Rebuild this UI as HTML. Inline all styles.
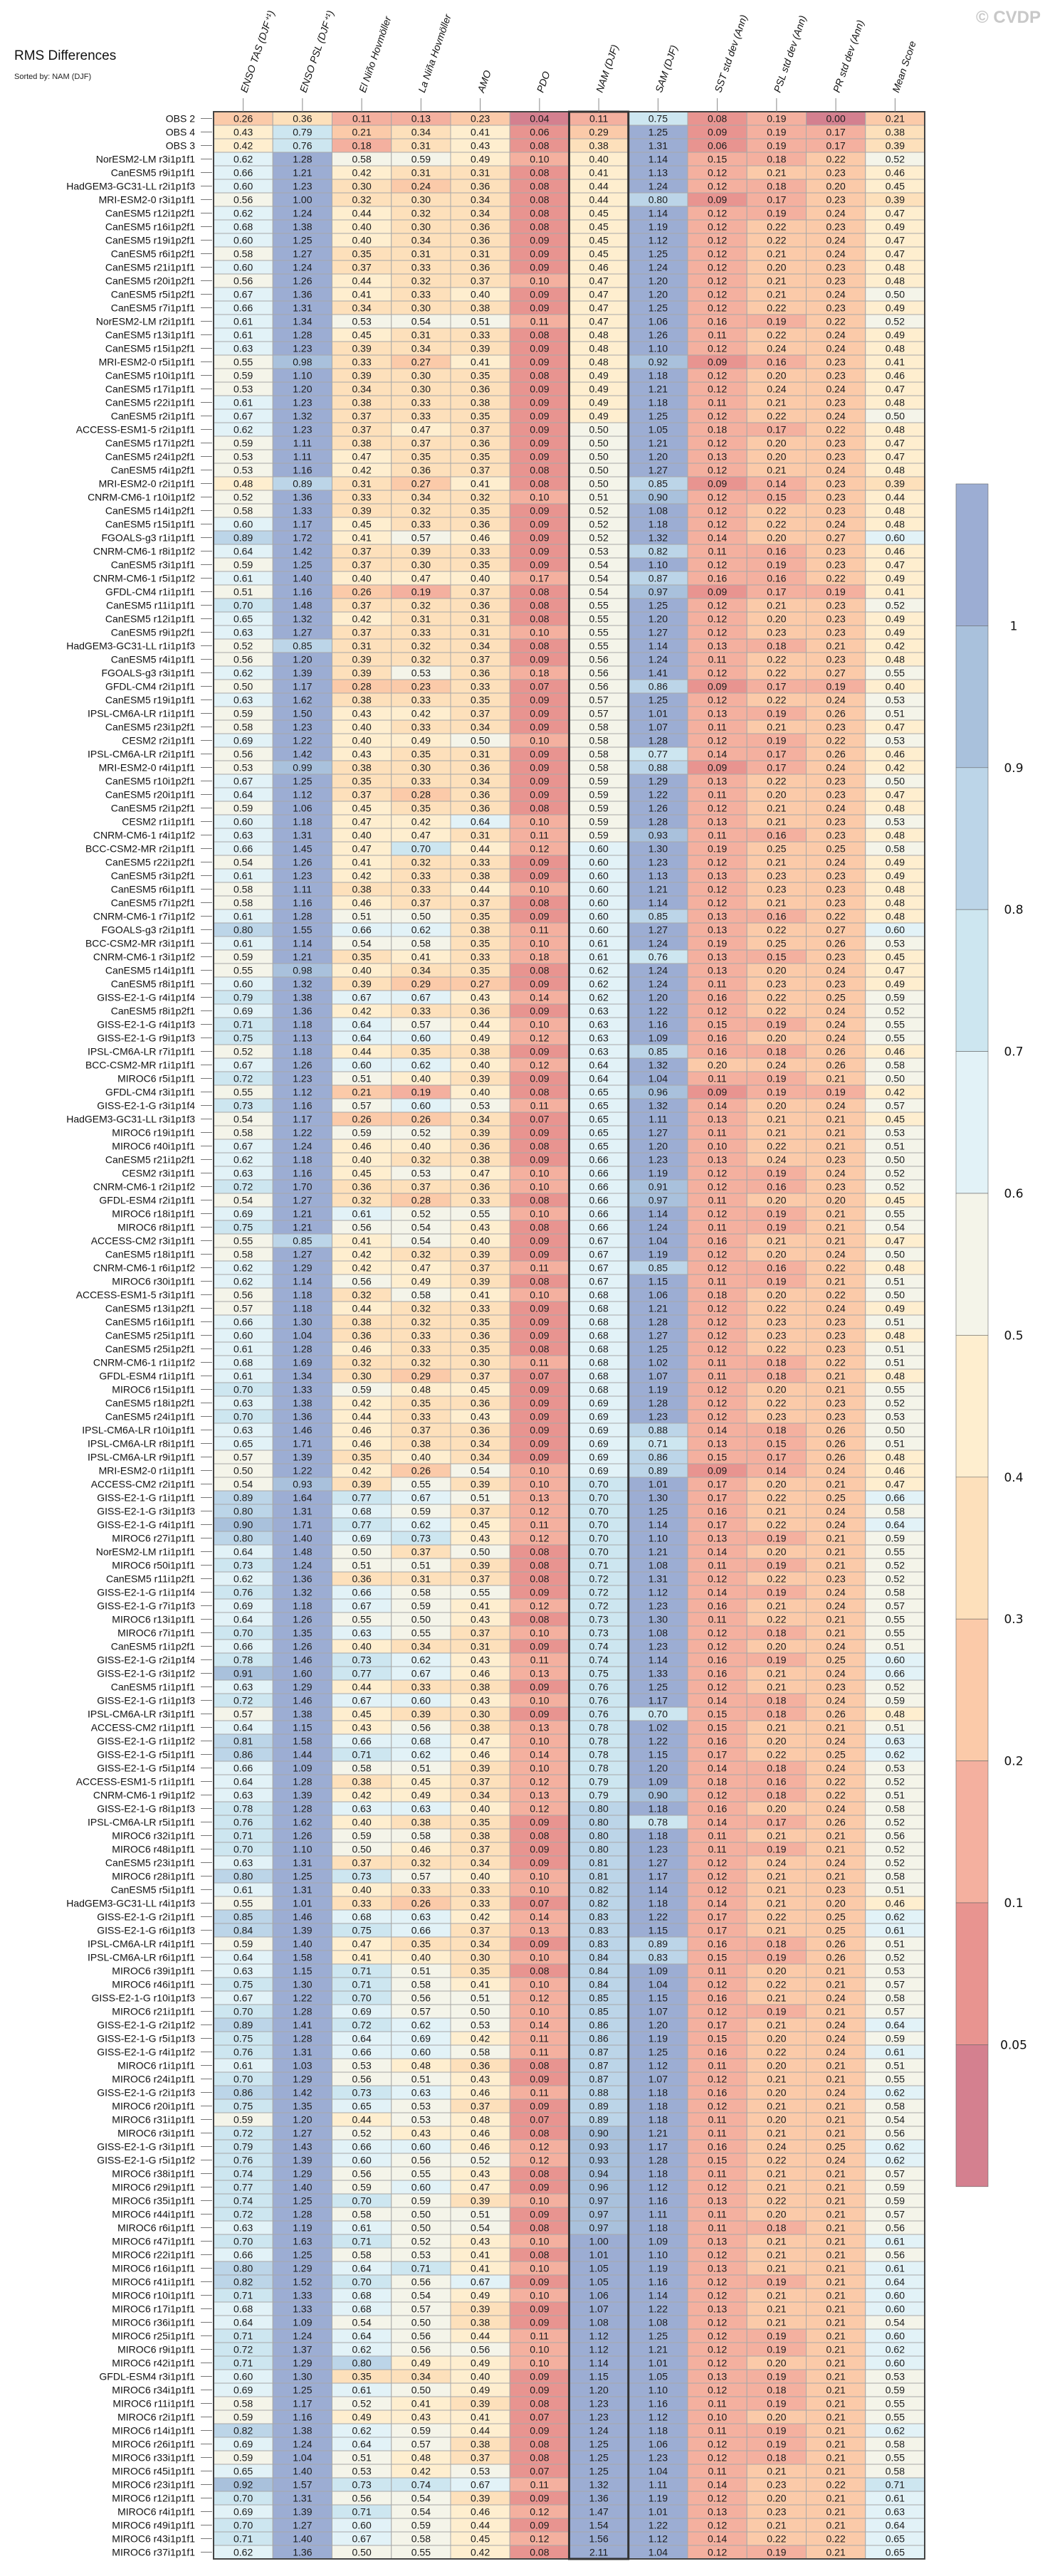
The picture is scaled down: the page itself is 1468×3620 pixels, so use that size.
<!DOCTYPE html>
<html><head><meta charset="utf-8"><title>RMS Differences</title>
<style>
html,body{margin:0;padding:0;background:#fff;}
svg{display:block;font-family:"Liberation Sans",sans-serif;}
</style></head>
<body>
<svg id="chart" width="1468" height="3620" viewBox="0 0 1468 3620" xmlns="http://www.w3.org/2000/svg">
<text x="20" y="84" font-size="19" fill="#111">RMS Differences</text>
<text x="20" y="111" font-size="11" fill="#222">Sorted by: NAM (DJF)</text>
<text x="1462" y="32" font-size="24" font-weight="bold" fill="#c8c8c8" text-anchor="end">© CVDP</text>
<g id="cells"></g>
<g id="rowlabels"></g>
<g id="collabels"></g>
<g id="colorbar"></g>
</svg>
<script>
const metrics = ["ENSO TAS (DJF⁺¹)","ENSO PSL (DJF⁺¹)","El Niño Hovmöller","La Niña Hovmöller","AMO","PDO","NAM (DJF)","SAM (DJF)","SST std dev (Ann)","PSL std dev (Ann)","PR std dev (Ann)","Mean Score"];
const sortedCol = 6;
const cbTicks = [1,0.9,0.8,0.7,0.6,0.5,0.4,0.3,0.2,0.1,0.05];
const cbColors = ["#9cadd3","#a9c1dc","#bcd5e8","#cde6f0","#e2f2f7","#f4f4e9","#feeecf","#fde0bb","#fbcaa9","#f4b09f","#e89490","#d4808f"];
const models = ["OBS 2","OBS 4","OBS 3","NorESM2-LM r3i1p1f1","CanESM5 r9i1p1f1","HadGEM3-GC31-LL r2i1p1f3","MRI-ESM2-0 r3i1p1f1","CanESM5 r12i1p2f1","CanESM5 r16i1p2f1","CanESM5 r19i1p2f1","CanESM5 r6i1p2f1","CanESM5 r21i1p1f1","CanESM5 r20i1p2f1","CanESM5 r5i1p2f1","CanESM5 r7i1p1f1","NorESM2-LM r2i1p1f1","CanESM5 r13i1p1f1","CanESM5 r15i1p2f1","MRI-ESM2-0 r5i1p1f1","CanESM5 r10i1p1f1",
"CanESM5 r17i1p1f1","CanESM5 r22i1p1f1","CanESM5 r2i1p1f1","ACCESS-ESM1-5 r2i1p1f1","CanESM5 r17i1p2f1","CanESM5 r24i1p2f1","CanESM5 r4i1p2f1","MRI-ESM2-0 r2i1p1f1","CNRM-CM6-1 r10i1p1f2","CanESM5 r14i1p2f1","CanESM5 r15i1p1f1","FGOALS-g3 r1i1p1f1","CNRM-CM6-1 r8i1p1f2","CanESM5 r3i1p1f1","CNRM-CM6-1 r5i1p1f2","GFDL-CM4 r1i1p1f1","CanESM5 r11i1p1f1","CanESM5 r12i1p1f1","CanESM5 r9i1p2f1","HadGEM3-GC31-LL r1i1p1f3","CanESM5 r4i1p1f1",
"FGOALS-g3 r3i1p1f1","GFDL-CM4 r2i1p1f1","CanESM5 r19i1p1f1","IPSL-CM6A-LR r1i1p1f1","CanESM5 r23i1p2f1","CESM2 r2i1p1f1","IPSL-CM6A-LR r2i1p1f1","MRI-ESM2-0 r4i1p1f1","CanESM5 r10i1p2f1","CanESM5 r20i1p1f1","CanESM5 r2i1p2f1","CESM2 r1i1p1f1","CNRM-CM6-1 r4i1p1f2","BCC-CSM2-MR r2i1p1f1","CanESM5 r22i1p2f1","CanESM5 r3i1p2f1","CanESM5 r6i1p1f1","CanESM5 r7i1p2f1","CNRM-CM6-1 r7i1p1f2","FGOALS-g3 r2i1p1f1","BCC-CSM2-MR r3i1p1f1",
"CNRM-CM6-1 r3i1p1f2","CanESM5 r14i1p1f1","CanESM5 r8i1p1f1","GISS-E2-1-G r4i1p1f4","CanESM5 r8i1p2f1","GISS-E2-1-G r4i1p1f3","GISS-E2-1-G r9i1p1f3","IPSL-CM6A-LR r7i1p1f1","BCC-CSM2-MR r1i1p1f1","MIROC6 r5i1p1f1","GFDL-CM4 r3i1p1f1","GISS-E2-1-G r3i1p1f4","HadGEM3-GC31-LL r3i1p1f3","MIROC6 r19i1p1f1","MIROC6 r40i1p1f1","CanESM5 r21i1p2f1","CESM2 r3i1p1f1","CNRM-CM6-1 r2i1p1f2","GFDL-ESM4 r2i1p1f1","MIROC6 r18i1p1f1","MIROC6 r8i1p1f1",
"ACCESS-CM2 r3i1p1f1","CanESM5 r18i1p1f1","CNRM-CM6-1 r6i1p1f2","MIROC6 r30i1p1f1","ACCESS-ESM1-5 r3i1p1f1","CanESM5 r13i1p2f1","CanESM5 r16i1p1f1","CanESM5 r25i1p1f1","CanESM5 r25i1p2f1","CNRM-CM6-1 r1i1p1f2","GFDL-ESM4 r1i1p1f1","MIROC6 r15i1p1f1","CanESM5 r18i1p2f1","CanESM5 r24i1p1f1","IPSL-CM6A-LR r10i1p1f1","IPSL-CM6A-LR r8i1p1f1","IPSL-CM6A-LR r9i1p1f1","MRI-ESM2-0 r1i1p1f1","ACCESS-CM2 r2i1p1f1","GISS-E2-1-G r1i1p1f1","GISS-E2-1-G r3i1p1f3",
"GISS-E2-1-G r4i1p1f1","MIROC6 r27i1p1f1","NorESM2-LM r1i1p1f1","MIROC6 r50i1p1f1","CanESM5 r11i1p2f1","GISS-E2-1-G r1i1p1f4","GISS-E2-1-G r7i1p1f3","MIROC6 r13i1p1f1","MIROC6 r7i1p1f1","CanESM5 r1i1p2f1","GISS-E2-1-G r2i1p1f4","GISS-E2-1-G r3i1p1f2","CanESM5 r1i1p1f1","GISS-E2-1-G r1i1p1f3","IPSL-CM6A-LR r3i1p1f1","ACCESS-CM2 r1i1p1f1","GISS-E2-1-G r1i1p1f2","GISS-E2-1-G r5i1p1f1","GISS-E2-1-G r5i1p1f4","ACCESS-ESM1-5 r1i1p1f1","CNRM-CM6-1 r9i1p1f2",
"GISS-E2-1-G r8i1p1f3","IPSL-CM6A-LR r5i1p1f1","MIROC6 r32i1p1f1","MIROC6 r48i1p1f1","CanESM5 r23i1p1f1","MIROC6 r28i1p1f1","CanESM5 r5i1p1f1","HadGEM3-GC31-LL r4i1p1f3","GISS-E2-1-G r2i1p1f1","GISS-E2-1-G r6i1p1f3","IPSL-CM6A-LR r4i1p1f1","IPSL-CM6A-LR r6i1p1f1","MIROC6 r39i1p1f1","MIROC6 r46i1p1f1","GISS-E2-1-G r10i1p1f3","MIROC6 r21i1p1f1","GISS-E2-1-G r2i1p1f2","GISS-E2-1-G r5i1p1f3","GISS-E2-1-G r4i1p1f2","MIROC6 r1i1p1f1","MIROC6 r24i1p1f1",
"GISS-E2-1-G r2i1p1f3","MIROC6 r20i1p1f1","MIROC6 r31i1p1f1","MIROC6 r3i1p1f1","GISS-E2-1-G r3i1p1f1","GISS-E2-1-G r5i1p1f2","MIROC6 r38i1p1f1","MIROC6 r29i1p1f1","MIROC6 r35i1p1f1","MIROC6 r44i1p1f1","MIROC6 r6i1p1f1","MIROC6 r47i1p1f1","MIROC6 r22i1p1f1","MIROC6 r16i1p1f1","MIROC6 r41i1p1f1","MIROC6 r10i1p1f1","MIROC6 r17i1p1f1","MIROC6 r36i1p1f1","MIROC6 r25i1p1f1","MIROC6 r9i1p1f1","MIROC6 r42i1p1f1",
"GFDL-ESM4 r3i1p1f1","MIROC6 r34i1p1f1","MIROC6 r11i1p1f1","MIROC6 r2i1p1f1","MIROC6 r14i1p1f1","MIROC6 r26i1p1f1","MIROC6 r33i1p1f1","MIROC6 r45i1p1f1","MIROC6 r23i1p1f1","MIROC6 r12i1p1f1","MIROC6 r4i1p1f1","MIROC6 r49i1p1f1","MIROC6 r43i1p1f1","MIROC6 r37i1p1f1"];
const rms = [
[.26,.36,.11,.13,.23,.04,.11,.75,.08,.19,.00,.21],
[.43,.79,.21,.34,.41,.06,.29,1.25,.09,.19,.17,.38],
[.42,.76,.18,.31,.43,.08,.38,1.31,.06,.19,.17,.39],
[.62,1.28,.58,.59,.49,.10,.40,1.14,.15,.18,.22,.52],
[.66,1.21,.42,.31,.31,.08,.41,1.13,.12,.21,.23,.46],
[.60,1.23,.30,.24,.36,.08,.44,1.24,.12,.18,.20,.45],
[.56,1.00,.32,.30,.34,.08,.44,.80,.09,.17,.23,.39],
[.62,1.24,.44,.32,.34,.08,.45,1.14,.12,.19,.24,.47],
[.68,1.38,.40,.30,.36,.08,.45,1.19,.12,.22,.23,.49],
[.60,1.25,.40,.34,.36,.09,.45,1.12,.12,.22,.24,.47],
[.58,1.27,.35,.31,.31,.09,.45,1.25,.12,.21,.24,.47],
[.60,1.24,.37,.33,.36,.09,.46,1.24,.12,.20,.23,.48],
[.56,1.26,.44,.32,.37,.10,.47,1.20,.12,.21,.23,.48],
[.67,1.36,.41,.33,.40,.09,.47,1.20,.12,.21,.24,.50],
[.66,1.31,.34,.30,.38,.09,.47,1.25,.12,.22,.23,.49],
[.61,1.34,.53,.54,.51,.11,.47,1.06,.16,.19,.22,.52],
[.61,1.28,.45,.31,.33,.08,.48,1.26,.11,.22,.24,.49],
[.63,1.23,.39,.34,.39,.09,.48,1.10,.12,.24,.24,.48],
[.55,.98,.33,.27,.41,.09,.48,.92,.09,.16,.23,.41],
[.59,1.10,.39,.30,.35,.08,.49,1.18,.12,.20,.23,.46],
[.53,1.20,.34,.30,.36,.09,.49,1.21,.12,.24,.24,.47],
[.61,1.23,.38,.33,.38,.09,.49,1.18,.11,.21,.23,.48],
[.67,1.32,.37,.33,.35,.09,.49,1.25,.12,.22,.24,.50],
[.62,1.23,.37,.47,.37,.09,.50,1.05,.18,.17,.22,.48],
[.59,1.11,.38,.37,.36,.09,.50,1.21,.12,.20,.23,.47],
[.53,1.11,.47,.35,.35,.09,.50,1.20,.13,.20,.23,.47],
[.53,1.16,.42,.36,.37,.08,.50,1.27,.12,.21,.24,.48],
[.48,.89,.31,.27,.41,.08,.50,.85,.09,.14,.23,.39],
[.52,1.36,.33,.34,.32,.10,.51,.90,.12,.15,.23,.44],
[.58,1.33,.39,.32,.35,.09,.52,1.08,.12,.22,.23,.48],
[.60,1.17,.45,.33,.36,.09,.52,1.18,.12,.22,.24,.48],
[.89,1.72,.41,.57,.46,.09,.52,1.32,.14,.20,.27,.60],
[.64,1.42,.37,.39,.33,.09,.53,.82,.11,.16,.23,.46],
[.59,1.25,.37,.30,.35,.09,.54,1.10,.12,.19,.23,.47],
[.61,1.40,.40,.47,.40,.17,.54,.87,.16,.16,.22,.49],
[.51,1.16,.26,.19,.37,.08,.54,.97,.09,.17,.19,.41],
[.70,1.48,.37,.32,.36,.08,.55,1.25,.12,.21,.23,.52],
[.65,1.32,.42,.31,.31,.08,.55,1.20,.12,.20,.23,.49],
[.63,1.27,.37,.33,.31,.10,.55,1.27,.12,.23,.23,.49],
[.52,.85,.31,.32,.34,.08,.55,1.14,.13,.18,.21,.42],
[.56,1.20,.39,.32,.37,.09,.56,1.24,.11,.22,.23,.48],
[.62,1.39,.39,.53,.36,.18,.56,1.41,.12,.22,.27,.55],
[.50,1.17,.28,.23,.33,.07,.56,.86,.09,.17,.19,.40],
[.63,1.62,.38,.33,.35,.09,.57,1.25,.12,.22,.24,.53],
[.59,1.50,.43,.42,.37,.09,.57,1.01,.13,.19,.26,.51],
[.58,1.23,.40,.33,.34,.09,.58,1.07,.11,.21,.23,.47],
[.69,1.22,.40,.49,.50,.10,.58,1.28,.12,.19,.22,.53],
[.56,1.42,.43,.35,.31,.09,.58,.77,.14,.17,.26,.46],
[.53,.99,.38,.30,.36,.09,.58,.88,.09,.17,.24,.42],
[.67,1.25,.35,.33,.34,.09,.59,1.29,.13,.22,.23,.50],
[.64,1.12,.37,.28,.36,.09,.59,1.22,.11,.20,.23,.47],
[.59,1.06,.45,.35,.36,.08,.59,1.26,.12,.21,.24,.48],
[.60,1.18,.47,.42,.64,.10,.59,1.28,.13,.21,.23,.53],
[.63,1.31,.40,.47,.31,.11,.59,.93,.11,.16,.23,.48],
[.66,1.45,.47,.70,.44,.12,.60,1.30,.19,.25,.25,.58],
[.54,1.26,.41,.32,.33,.09,.60,1.23,.12,.21,.24,.49],
[.61,1.23,.42,.33,.38,.09,.60,1.13,.13,.23,.23,.49],
[.58,1.11,.38,.33,.44,.10,.60,1.21,.12,.23,.23,.48],
[.58,1.16,.46,.37,.37,.08,.60,1.14,.12,.21,.23,.48],
[.61,1.28,.51,.50,.35,.09,.60,.85,.13,.16,.22,.48],
[.80,1.55,.66,.62,.38,.11,.60,1.27,.13,.22,.27,.60],
[.61,1.14,.54,.58,.35,.10,.61,1.24,.19,.25,.26,.53],
[.59,1.21,.35,.41,.33,.18,.61,.76,.13,.15,.23,.45],
[.55,.98,.40,.34,.35,.08,.62,1.24,.13,.20,.24,.47],
[.60,1.32,.39,.29,.27,.09,.62,1.24,.11,.23,.23,.49],
[.79,1.38,.67,.67,.43,.14,.62,1.20,.16,.22,.25,.59],
[.69,1.36,.42,.33,.36,.09,.63,1.22,.12,.22,.24,.52],
[.71,1.18,.64,.57,.44,.10,.63,1.16,.15,.19,.24,.55],
[.75,1.13,.64,.60,.49,.12,.63,1.09,.16,.20,.24,.55],
[.52,1.18,.44,.35,.38,.09,.63,.85,.16,.18,.26,.46],
[.67,1.26,.60,.62,.40,.12,.64,1.32,.20,.24,.26,.58],
[.72,1.23,.51,.40,.39,.09,.64,1.04,.11,.19,.21,.50],
[.55,1.12,.21,.19,.40,.08,.65,.96,.09,.19,.19,.42],
[.73,1.16,.57,.60,.53,.11,.65,1.32,.14,.20,.24,.57],
[.54,1.17,.26,.26,.34,.07,.65,1.11,.13,.21,.21,.45],
[.58,1.22,.59,.52,.39,.09,.65,1.27,.11,.21,.21,.53],
[.67,1.24,.46,.40,.36,.08,.65,1.20,.10,.22,.21,.51],
[.62,1.18,.40,.32,.38,.09,.66,1.23,.13,.24,.23,.50],
[.63,1.16,.45,.53,.47,.10,.66,1.19,.12,.19,.24,.52],
[.72,1.70,.36,.37,.36,.10,.66,.91,.12,.16,.23,.52],
[.54,1.27,.32,.28,.33,.08,.66,.97,.11,.20,.20,.45],
[.69,1.21,.61,.52,.55,.10,.66,1.14,.12,.19,.21,.55],
[.75,1.21,.56,.54,.43,.08,.66,1.24,.11,.19,.21,.54],
[.55,.85,.41,.54,.40,.09,.67,1.04,.16,.21,.21,.47],
[.58,1.27,.42,.32,.39,.09,.67,1.19,.12,.20,.24,.50],
[.62,1.29,.42,.47,.37,.11,.67,.85,.12,.16,.22,.48],
[.62,1.14,.56,.49,.39,.08,.67,1.15,.11,.19,.21,.51],
[.56,1.18,.32,.58,.41,.10,.68,1.06,.18,.20,.22,.50],
[.57,1.18,.44,.32,.33,.09,.68,1.21,.12,.22,.24,.49],
[.66,1.30,.38,.32,.35,.09,.68,1.28,.12,.23,.23,.51],
[.60,1.04,.36,.33,.36,.09,.68,1.27,.12,.23,.23,.48],
[.61,1.28,.46,.33,.35,.08,.68,1.25,.12,.22,.23,.51],
[.68,1.69,.32,.32,.30,.11,.68,1.02,.11,.18,.22,.51],
[.61,1.34,.30,.29,.37,.07,.68,1.07,.11,.18,.21,.48],
[.70,1.33,.59,.48,.45,.09,.68,1.19,.12,.20,.21,.55],
[.63,1.38,.42,.35,.36,.09,.69,1.28,.12,.22,.23,.52],
[.70,1.36,.44,.33,.43,.09,.69,1.23,.12,.23,.23,.53],
[.63,1.46,.46,.37,.36,.09,.69,.88,.14,.18,.26,.50],
[.65,1.71,.46,.38,.34,.09,.69,.71,.13,.15,.26,.51],
[.57,1.39,.35,.40,.34,.09,.69,.86,.15,.17,.26,.48],
[.50,1.22,.42,.26,.54,.10,.69,.89,.09,.14,.24,.46],
[.54,.93,.39,.55,.39,.10,.70,1.01,.17,.20,.21,.47],
[.89,1.64,.77,.67,.51,.13,.70,1.30,.17,.22,.25,.66],
[.80,1.31,.68,.59,.37,.12,.70,1.25,.16,.21,.24,.58],
[.90,1.71,.77,.62,.45,.11,.70,1.14,.17,.22,.24,.64],
[.80,1.40,.69,.73,.43,.12,.70,1.10,.13,.19,.21,.59],
[.64,1.48,.50,.37,.50,.08,.70,1.21,.14,.20,.21,.55],
[.73,1.24,.51,.51,.39,.08,.71,1.08,.11,.19,.21,.52],
[.62,1.36,.36,.31,.37,.08,.72,1.31,.12,.22,.23,.52],
[.76,1.32,.66,.58,.55,.09,.72,1.12,.14,.19,.24,.58],
[.69,1.18,.67,.59,.41,.12,.72,1.23,.16,.21,.24,.57],
[.64,1.26,.55,.50,.43,.08,.73,1.30,.11,.22,.21,.55],
[.70,1.35,.63,.55,.37,.10,.73,1.08,.12,.18,.21,.55],
[.66,1.26,.40,.34,.31,.09,.74,1.23,.12,.20,.24,.51],
[.78,1.46,.73,.62,.43,.11,.74,1.14,.16,.19,.25,.60],
[.91,1.60,.77,.67,.46,.13,.75,1.33,.16,.21,.24,.66],
[.63,1.29,.44,.33,.38,.09,.76,1.25,.12,.21,.23,.52],
[.72,1.46,.67,.60,.43,.10,.76,1.17,.14,.18,.24,.59],
[.57,1.38,.45,.39,.30,.09,.76,.70,.15,.18,.26,.48],
[.64,1.15,.43,.56,.38,.13,.78,1.02,.15,.21,.21,.51],
[.81,1.58,.66,.68,.47,.10,.78,1.22,.16,.20,.24,.63],
[.86,1.44,.71,.62,.46,.14,.78,1.15,.17,.22,.25,.62],
[.66,1.09,.58,.51,.39,.10,.78,1.20,.14,.18,.24,.53],
[.64,1.28,.38,.45,.37,.12,.79,1.09,.18,.16,.22,.52],
[.63,1.39,.42,.49,.34,.13,.79,.90,.12,.18,.22,.51],
[.78,1.28,.63,.63,.40,.12,.80,1.18,.16,.20,.24,.58],
[.76,1.62,.40,.38,.35,.09,.80,.78,.14,.17,.26,.52],
[.71,1.26,.59,.58,.38,.08,.80,1.18,.11,.21,.21,.56],
[.70,1.10,.50,.46,.37,.09,.80,1.23,.11,.19,.21,.52],
[.63,1.31,.37,.32,.34,.09,.81,1.27,.12,.24,.24,.52],
[.80,1.25,.73,.57,.40,.10,.81,1.17,.12,.21,.21,.58],
[.61,1.31,.40,.33,.33,.10,.82,1.14,.12,.21,.23,.51],
[.55,1.01,.33,.26,.33,.07,.82,1.18,.14,.21,.20,.46],
[.85,1.46,.68,.63,.42,.14,.83,1.22,.17,.22,.25,.62],
[.84,1.39,.75,.66,.37,.13,.83,1.15,.17,.21,.25,.61],
[.59,1.40,.47,.35,.34,.09,.83,.89,.16,.18,.26,.51],
[.64,1.58,.41,.40,.30,.10,.84,.83,.15,.19,.26,.52],
[.63,1.15,.71,.51,.35,.08,.84,1.09,.11,.20,.21,.53],
[.75,1.30,.71,.58,.41,.10,.84,1.04,.12,.22,.21,.57],
[.67,1.22,.70,.56,.51,.12,.85,1.15,.16,.21,.24,.58],
[.70,1.28,.69,.57,.50,.10,.85,1.07,.12,.19,.21,.57],
[.89,1.41,.72,.62,.53,.14,.86,1.20,.17,.21,.24,.64],
[.75,1.28,.64,.69,.42,.11,.86,1.19,.15,.20,.24,.59],
[.76,1.31,.66,.60,.58,.11,.87,1.25,.16,.22,.24,.61],
[.61,1.03,.53,.48,.36,.08,.87,1.12,.11,.20,.21,.51],
[.70,1.29,.56,.51,.43,.09,.87,1.07,.12,.21,.21,.55],
[.86,1.42,.73,.63,.46,.11,.88,1.18,.16,.20,.24,.62],
[.75,1.35,.65,.53,.37,.09,.89,1.18,.12,.21,.21,.58],
[.59,1.20,.44,.53,.48,.07,.89,1.18,.11,.20,.21,.54],
[.72,1.27,.52,.43,.46,.08,.90,1.21,.11,.21,.21,.56],
[.79,1.43,.66,.60,.46,.12,.93,1.17,.16,.24,.25,.62],
[.76,1.39,.60,.56,.52,.12,.93,1.28,.15,.22,.24,.62],
[.74,1.29,.56,.55,.43,.08,.94,1.18,.11,.21,.21,.57],
[.77,1.40,.59,.60,.47,.09,.96,1.12,.12,.21,.21,.59],
[.74,1.25,.70,.59,.39,.10,.97,1.16,.13,.22,.21,.59],
[.72,1.28,.58,.50,.51,.09,.97,1.11,.11,.20,.21,.57],
[.63,1.19,.61,.50,.54,.08,.97,1.18,.11,.18,.21,.56],
[.70,1.63,.71,.52,.43,.10,1.00,1.09,.13,.21,.21,.61],
[.66,1.25,.58,.53,.41,.08,1.01,1.10,.12,.21,.21,.56],
[.80,1.29,.64,.71,.41,.10,1.05,1.19,.13,.21,.21,.61],
[.82,1.52,.70,.56,.67,.09,1.05,1.16,.12,.19,.21,.64],
[.71,1.33,.68,.54,.49,.10,1.06,1.14,.12,.21,.21,.60],
[.68,1.33,.68,.57,.39,.09,1.07,1.22,.13,.21,.21,.60],
[.64,1.09,.54,.50,.38,.09,1.08,1.08,.12,.21,.21,.54],
[.71,1.24,.64,.56,.44,.11,1.12,1.25,.12,.19,.21,.60],
[.72,1.37,.62,.56,.56,.10,1.12,1.21,.12,.19,.21,.62],
[.71,1.29,.80,.49,.49,.10,1.14,1.01,.12,.20,.21,.60],
[.60,1.30,.35,.34,.40,.09,1.15,1.05,.13,.19,.21,.53],
[.69,1.25,.61,.50,.49,.09,1.20,1.10,.12,.18,.21,.59],
[.58,1.17,.52,.41,.39,.08,1.23,1.16,.11,.19,.21,.55],
[.59,1.16,.49,.43,.41,.07,1.23,1.12,.10,.20,.21,.55],
[.82,1.38,.62,.59,.44,.09,1.24,1.18,.11,.19,.21,.62],
[.69,1.24,.64,.57,.38,.08,1.25,1.06,.12,.19,.21,.58],
[.59,1.04,.51,.48,.37,.08,1.25,1.23,.12,.18,.21,.55],
[.65,1.40,.53,.42,.53,.07,1.25,1.04,.11,.21,.21,.58],
[.92,1.57,.73,.74,.67,.11,1.32,1.11,.14,.23,.22,.71],
[.70,1.31,.56,.54,.39,.09,1.36,1.19,.12,.20,.21,.61],
[.69,1.39,.71,.54,.46,.12,1.47,1.01,.13,.23,.21,.63],
[.70,1.27,.60,.59,.44,.09,1.54,1.22,.12,.21,.21,.64],
[.71,1.40,.67,.58,.45,.12,1.56,1.12,.14,.22,.22,.65],
[.62,1.36,.50,.55,.42,.08,2.11,1.04,.12,.19,.21,.65]
];

const NS = "http://www.w3.org/2000/svg";
const tableLeft = 300, tableTop = 157, colW = 83.25, rowH = 19;
function xCol(j){ return tableLeft + j*colW; }
function yRow(i){ return tableTop + i*rowH; }
function colorFor(v){
  // thresholds descending: >=1 -> 0, [0.9,1) -> 1 ...
  for (let k=0;k<cbTicks.length;k++){ if (v >= cbTicks[k]-1e-9) return cbColors[k]; }
  return cbColors[cbColors.length-1];
}
function mk(tag, attrs, parent){
  const e = document.createElementNS(NS, tag);
  for (const k in attrs) e.setAttribute(k, attrs[k]);
  parent.appendChild(e); return e;
}
const cells = document.getElementById('cells');
const rowG = document.getElementById('rowlabels');
const colG = document.getElementById('collabels');
const cbG = document.getElementById('colorbar');
const nRows = models.length, nCols = metrics.length;

for (let i=0;i<nRows;i++){
  for (let j=0;j<nCols;j++){
    const v = rms[i][j];
    const r = mk('rect',{x:xCol(j),y:yRow(i),width:colW,height:rowH,fill:colorFor(v),stroke:'#a8a8a8','stroke-width':1},cells);
    
    
    const t = mk('text',{x:xCol(j)+colW/2,y:yRow(i)+14.5,'text-anchor':'middle','font-size':14,fill:'#1a1a1a'},cells);
    
    
    t.textContent = v.toFixed(2);
  }
  const lab = mk('text',{x:274,y:yRow(i)+14.5,'text-anchor':'end','font-size':14,fill:'#111'},rowG);
  
  
  lab.textContent = models[i];
  const tk = mk('line',{x1:282,x2:298,y1:yRow(i)+rowH/2,y2:yRow(i)+rowH/2,stroke:'#777','stroke-width':1},rowG);
  
  
}
// outer border
const border = mk('rect',{x:tableLeft,y:tableTop,width:colW*nCols,height:rowH*nRows,fill:'none',stroke:'#444','stroke-width':2},cells);


const hl = mk('rect',{x:xCol(sortedCol),y:tableTop,width:colW,height:rowH*nRows,fill:'none',stroke:'#333','stroke-width':3},cells);



for (let j=0;j<nCols;j++){
  const cx = xCol(j)+colW/2;
  const tk = mk('line',{x1:cx,x2:cx,y1:138,y2:157,stroke:'#888','stroke-width':1},colG);
  
  
  const t = mk('text',{x:cx+5,y:131,'font-size':14,'font-style':'italic',fill:'#111',transform:`rotate(-71 ${cx+5} 131)`},colG);
  
  
  t.textContent = metrics[j];
}

// colorbar
const cbX = 1343, cbW = 45, cbTop = 680, segH = 199.4;
for (let k=0;k<cbColors.length;k++){
  const r = mk('rect',{x:cbX,y:cbTop+k*segH,width:cbW,height:segH,fill:cbColors[k],stroke:'#666','stroke-width':0.6},cbG);
  
  
}
for (let k=0;k<cbTicks.length;k++){
  const t = mk('text',{x:1424,y:cbTop+(k+1)*segH+6,'text-anchor':'middle','font-size':17,fill:'#111','font-family':'DejaVu Sans, sans-serif'},cbG);
  
  
  t.textContent = String(cbTicks[k]);
}
</script>
</body></html>
